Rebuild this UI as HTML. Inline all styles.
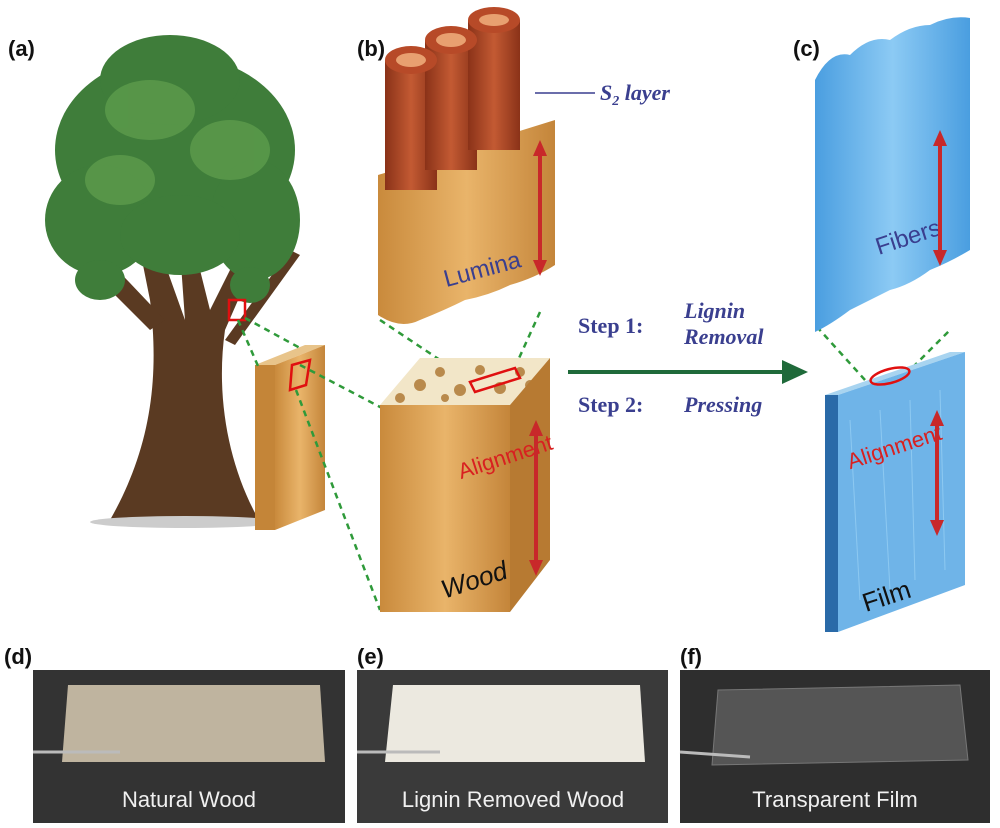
<!DOCTYPE html>
<html><head><meta charset="utf-8"><style>
html,body{margin:0;padding:0;background:#fff;}
svg{display:block}
</style></head><body>
<svg width="1000" height="828" viewBox="0 0 1000 828" xmlns="http://www.w3.org/2000/svg" font-family="Liberation Sans, sans-serif">
<defs>
<linearGradient id="woodg" x1="0" x2="1"><stop offset="0" stop-color="#c98a3c"/><stop offset="0.5" stop-color="#e9b46a"/><stop offset="1" stop-color="#c4853a"/></linearGradient>
<linearGradient id="tube" x1="0" x2="1"><stop offset="0" stop-color="#8a3218"/><stop offset="0.5" stop-color="#c35a33"/><stop offset="1" stop-color="#8a3218"/></linearGradient>
<linearGradient id="blueg" x1="0" x2="1"><stop offset="0" stop-color="#4a9ee0"/><stop offset="0.5" stop-color="#8ccaf4"/><stop offset="1" stop-color="#4a9ee0"/></linearGradient>
<marker id="ar" markerUnits="userSpaceOnUse" markerWidth="16" markerHeight="16" refX="8" refY="8" orient="auto-start-reverse"><path d="M0,1 L16,8 L0,15 z" fill="#c8282a"/></marker>
</defs>

<g font-weight="bold" font-size="22" fill="#111">
<text x="8" y="56">(a)</text><text x="357" y="56">(b)</text><text x="793" y="56">(c)</text>
<text x="4" y="664">(d)</text><text x="357" y="664">(e)</text><text x="680" y="664">(f)</text>
</g>

<!-- tree trunk -->
<path d="M150,300 C160,380 150,450 110,520 L260,522 C230,470 215,400 225,330 L260,250 L240,250 L210,310 L195,250 L180,250 L185,320 L160,250 L140,250 Z" fill="#5a3a22"/>
<path d="M90,270 L150,330 L165,320 L110,262Z" fill="#5a3a22"/>
<path d="M290,250 L225,340 L235,345 L300,255Z" fill="#5a3a22"/>
<ellipse cx="185" cy="522" rx="95" ry="6" fill="#ccc"/>
<g fill="#3f7d3a">
<ellipse cx="175" cy="150" rx="120" ry="95"/>
<ellipse cx="100" cy="220" rx="55" ry="55"/>
<ellipse cx="255" cy="220" rx="45" ry="60"/>
<ellipse cx="180" cy="235" rx="60" ry="40"/>
<ellipse cx="170" cy="80" rx="70" ry="45"/>
<ellipse cx="100" cy="280" rx="25" ry="20"/>
<ellipse cx="250" cy="285" rx="20" ry="18"/>
</g>
<g fill="#5d9c4c" opacity="0.8">
<ellipse cx="150" cy="110" rx="45" ry="30"/><ellipse cx="230" cy="150" rx="40" ry="30"/><ellipse cx="120" cy="180" rx="35" ry="25"/>
</g>
<rect x="229" y="300" width="16" height="20" fill="none" stroke="#e01010" stroke-width="2.5"/>

<!-- small slab -->
<polygon points="255,365 305,345 325,345 275,365" fill="#e8c48a"/>
<polygon points="255,365 275,365 275,530 255,530" fill="#c48538"/>
<polygon points="275,365 325,345 325,510 275,530" fill="url(#woodg)"/>
<polygon points="292,365 310,360 306,385 290,390" fill="none" stroke="#e01010" stroke-width="2.5"/>

<g stroke="#2f9a3a" stroke-width="2.5" stroke-dasharray="6,5" fill="none">
<line x1="238" y1="320" x2="258" y2="366"/><line x1="245" y1="318" x2="300" y2="348"/>
<line x1="300" y1="365" x2="382" y2="408"/><line x1="296" y1="390" x2="380" y2="610"/>
<line x1="380" y1="320" x2="470" y2="380"/><line x1="540" y1="312" x2="510" y2="378"/>
<line x1="865" y1="380" x2="818" y2="328"/><line x1="905" y1="375" x2="950" y2="330"/>
</g>

<!-- wood block -->
<polygon points="380,405 420,358 550,358 510,405" fill="#f2e6c8"/>
<g fill="#b98a4c">
<circle cx="420" cy="385" r="6"/><circle cx="440" cy="372" r="5"/><circle cx="460" cy="390" r="6"/><circle cx="480" cy="370" r="5"/><circle cx="500" cy="388" r="6"/><circle cx="520" cy="372" r="5"/><circle cx="400" cy="398" r="5"/><circle cx="445" cy="398" r="4"/><circle cx="530" cy="385" r="5"/>
</g>
<polygon points="380,405 510,405 510,612 380,612" fill="url(#woodg)"/>
<polygon points="510,405 550,358 550,560 510,612" fill="#b77a32"/>
<polygon points="470,382 515,368 520,378 475,392" fill="none" stroke="#e01010" stroke-width="2.5"/>
<text x="452" y="478" font-size="22" fill="#d82020" transform="rotate(-18 460 450)">Alignment</text>
<line x1="536" y1="428" x2="536" y2="568" stroke="#c8282a" stroke-width="4" marker-start="url(#ar)" marker-end="url(#ar)"/>
<text x="440" y="590" font-size="26" font-style="italic" fill="#111" transform="rotate(-18 470 580)">Wood</text>

<!-- fiber tubes -->
<path d="M378,175 L378,315 Q400,330 420,320 Q445,310 465,300 Q490,295 510,285 Q535,278 555,265 L555,120 Z" fill="url(#woodg)"/>
<rect x="385" y="60" width="52" height="130" fill="url(#tube)"/>
<rect x="425" y="40" width="52" height="130" fill="url(#tube)"/>
<rect x="468" y="20" width="52" height="130" fill="url(#tube)"/>
<ellipse cx="411" cy="60" rx="26" ry="14" fill="#b74a28"/><ellipse cx="411" cy="60" rx="15" ry="7" fill="#e8a070"/>
<ellipse cx="451" cy="40" rx="26" ry="14" fill="#b74a28"/><ellipse cx="451" cy="40" rx="15" ry="7" fill="#e8a070"/>
<ellipse cx="494" cy="20" rx="26" ry="13" fill="#b74a28"/><ellipse cx="494" cy="20" rx="15" ry="6" fill="#e8a070"/>
<line x1="535" y1="93" x2="595" y2="93" stroke="#3a3f8f" stroke-width="1.5"/>
<text x="600" y="100" font-family="Liberation Serif, serif" font-size="22" font-style="italic" font-weight="bold" fill="#3a3f8f">S<tspan font-size="14" dy="5">2</tspan><tspan dy="-5"> layer</tspan></text>
<text x="440" y="280" font-size="24" fill="#3a3f8f" transform="rotate(-15 470 260)">Lumina</text>
<line x1="540" y1="148" x2="540" y2="268" stroke="#c8282a" stroke-width="4" marker-start="url(#ar)" marker-end="url(#ar)"/>

<g font-family="Liberation Serif, serif" font-weight="bold" font-size="22" fill="#3a3f8f">
<text x="578" y="333">Step 1:</text>
<text x="684" y="318" font-style="italic">Lignin</text>
<text x="684" y="344" font-style="italic">Removal</text>
<text x="578" y="412">Step 2:</text>
<text x="684" y="412" font-style="italic">Pressing</text>
</g>
<line x1="568" y1="372" x2="790" y2="372" stroke="#1f6a3a" stroke-width="4"/>
<polygon points="782,360 808,372 782,384" fill="#1f6a3a"/>

<!-- blue fibers -->
<path d="M815,80 Q830,50 850,55 Q870,35 890,40 Q910,25 930,25 Q950,15 970,18 L970,250 Q950,262 930,270 Q910,285 890,290 Q870,300 850,310 Q830,325 815,332 Z" fill="url(#blueg)"/>
<text x="870" y="250" font-size="24" fill="#3a3f8f" transform="rotate(-18 890 225)">Fibers</text>
<line x1="940" y1="138" x2="940" y2="258" stroke="#c8282a" stroke-width="4" marker-start="url(#ar)" marker-end="url(#ar)"/>

<!-- blue film -->
<polygon points="825,395 950,352 965,352 838,395" fill="#a8d4f0"/>
<polygon points="825,395 838,395 838,632 825,632" fill="#2a6aa8"/>
<polygon points="838,395 965,352 965,585 838,632" fill="#6fb4e8"/>
<g stroke="#9ad2f6" stroke-width="1" opacity="0.7">
<line x1="850" y1="420" x2="860" y2="600"/><line x1="880" y1="410" x2="890" y2="590"/><line x1="910" y1="400" x2="915" y2="580"/><line x1="940" y1="390" x2="945" y2="570"/>
</g>
<ellipse cx="890" cy="376" rx="20" ry="7" transform="rotate(-15 890 376)" fill="none" stroke="#e01010" stroke-width="2.5"/>
<text x="840" y="455" font-size="22" fill="#d82020" transform="rotate(-18 890 430)">Alignment</text>
<line x1="937" y1="418" x2="937" y2="528" stroke="#c8282a" stroke-width="4" marker-start="url(#ar)" marker-end="url(#ar)"/>
<text x="860" y="605" font-size="26" fill="#111" transform="rotate(-18 885 590)">Film</text>

<!-- photos -->
<rect x="33" y="670" width="312" height="153" fill="#333"/>
<rect x="357" y="670" width="311" height="153" fill="#3a3a3a"/>
<rect x="680" y="670" width="310" height="153" fill="#2e2e2e"/>
<polygon points="68,685 320,685 325,762 62,762" fill="#bfb49f"/>
<polygon points="393,685 640,685 645,762 385,762" fill="#ece9e0"/>
<polygon points="718,690 960,685 968,760 712,765" fill="#555" stroke="#777"/>
<g stroke="#bbb" stroke-width="3"><line x1="33" y1="752" x2="120" y2="752"/><line x1="357" y1="752" x2="440" y2="752"/><line x1="680" y1="752" x2="750" y2="757"/></g>
<g font-size="22" fill="#f0f0f0" text-anchor="middle">
<text x="189" y="807">Natural Wood</text>
<text x="513" y="807">Lignin Removed Wood</text>
<text x="835" y="807">Transparent Film</text>
</g>
</svg>
</body></html>
